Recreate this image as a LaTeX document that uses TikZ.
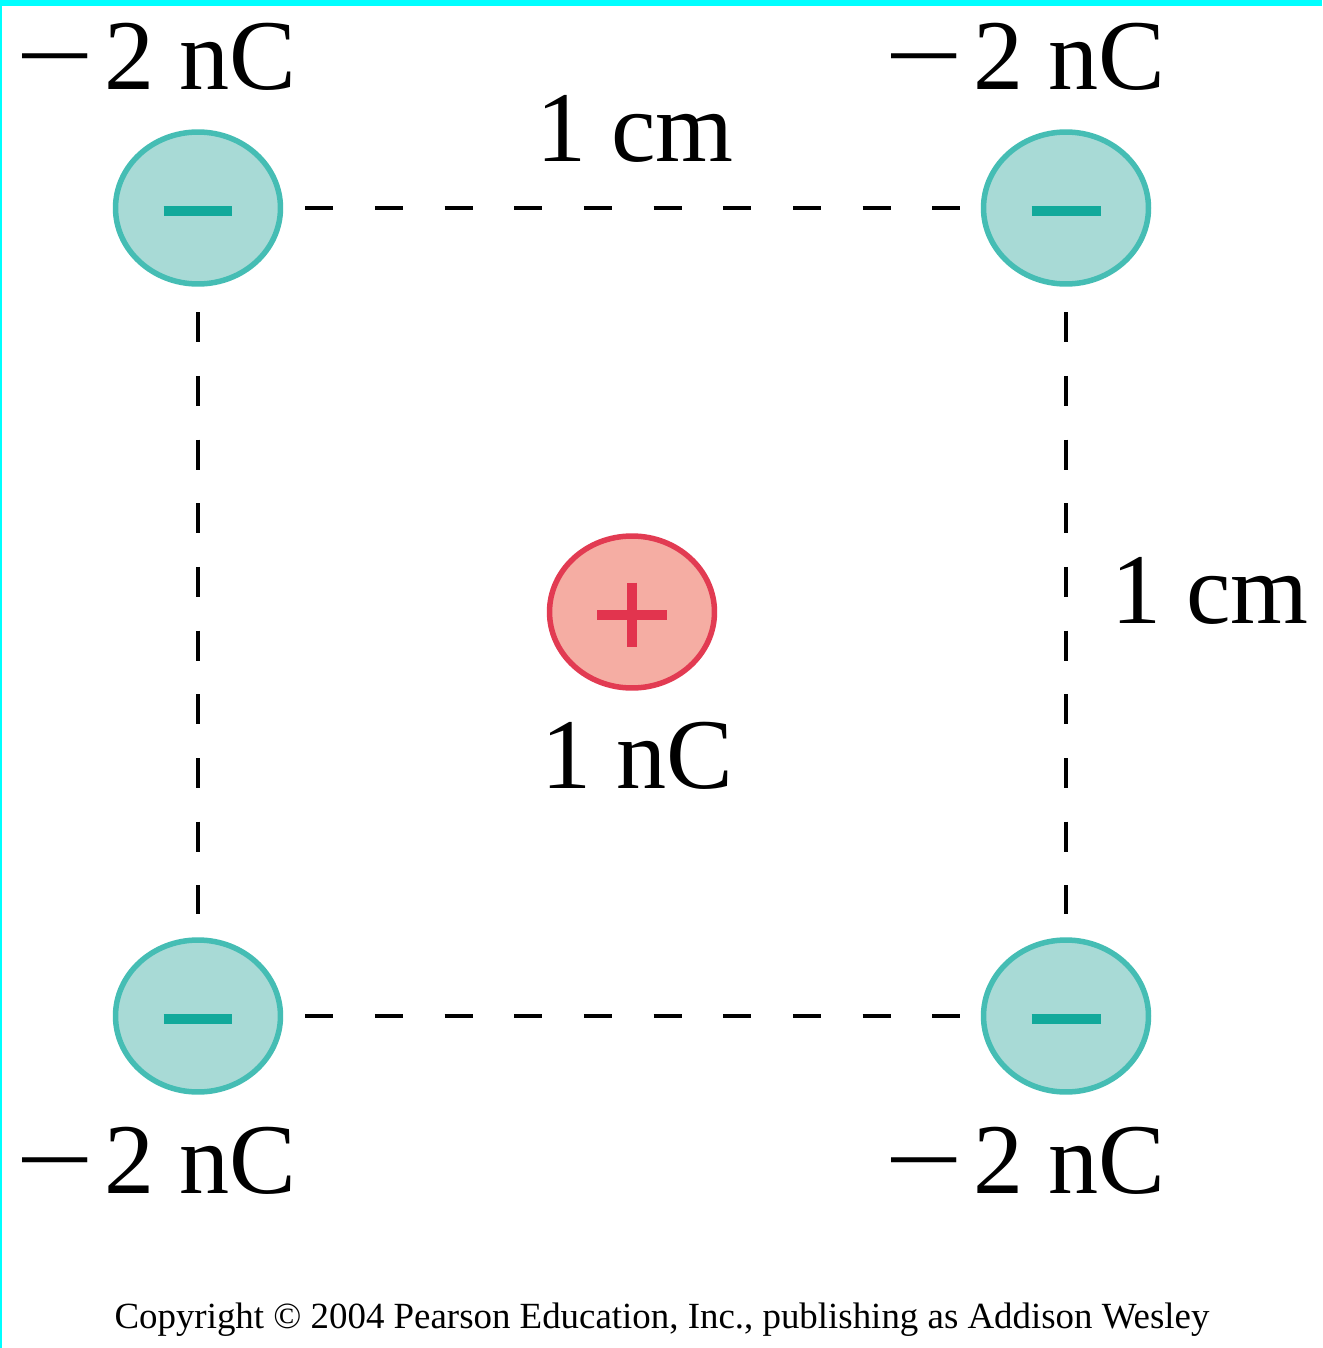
\documentclass[tikz,border=0pt]{standalone}
\usepackage{fontspec}
\setmainfont{Liberation Serif}
\usetikzlibrary{shapes.geometric}

\definecolor{negfill}{HTML}{A8DAD6}
\definecolor{negline}{HTML}{45BDB4}
\definecolor{negsign}{HTML}{12A99B}
\definecolor{posfill}{HTML}{F5ADA3}
\definecolor{posline}{HTML}{E23B52}
\definecolor{possign}{HTML}{E2344E}
\definecolor{edgecyan}{HTML}{00FFFF}

\newcommand{\minussign}{\scalebox{1.4}[1]{−}\kern0.1em}

\tikzset{
  charge/.style={ellipse, line width=0.11cm, minimum width=3.3cm, minimum height=3.04cm, inner sep=0pt},
  negcharge/.style={charge, fill=negfill, draw=negline},
  poscharge/.style={charge, fill=posfill, draw=posline},
  sign/.style={line width=0.2cm},
  lbl/.style={font=\fontsize{57}{62}\selectfont, anchor=base, inner sep=0pt},
  hside/.style={line width=0.08cm, dash pattern=on 0.56cm off 0.834cm, shorten <=0.44cm, shorten >=0.42cm},
  vside/.style={line width=0.08cm, dash pattern=on 0.6cm off 0.674cm, shorten <=0.51cm, shorten >=0.46cm}
}

\begin{document}
\begin{tikzpicture}[x=0.02cm, y=-0.02cm]
  \useasboundingbox (0,0) rectangle (1322,1348);
  \fill[white] (0,0) rectangle (1322,1348);

  % Cyan edge of the scan
  \fill[edgecyan] (0,0) rectangle (1322,6);
  \fill[edgecyan] (0,0) rectangle (2,1348);

  % Charges at the corners
  \node[negcharge] (tl) at (198,208) {};
  \node[negcharge] (tr) at (1066,208) {};
  \node[negcharge] (bl) at (198,1016) {};
  \node[negcharge] (br) at (1066,1016) {};
  \foreach \q in {tl,tr,bl,br}
    \draw[sign, negsign] ([xshift=-0.69cm, yshift=-0.06cm]\q.center) -- ([xshift=0.69cm, yshift=-0.06cm]\q.center);

  % Charge in the middle
  \node[poscharge] (mid) at (632,612) {};
  \draw[sign, possign] ([xshift=-0.7cm, yshift=-0.06cm]mid.center) -- ([xshift=0.7cm, yshift=-0.06cm]mid.center);
  \draw[sign, possign] ([yshift=0.59cm]mid.center) -- ([yshift=-0.71cm]mid.center);

  % Sides of the square
  \draw[hside] (tl) -- (tr);
  \draw[hside] (bl) -- (br);
  \draw[vside] (tl) -- (bl);
  \draw[vside] (tr) -- (br);

  % Labels
  \node[lbl] (qtl) at (156,90) {\minussign2 nC};
  \node[lbl] (qtr) at (1025,90) {\minussign2 nC};
  \node[lbl] (qbl) at (156,1193) {\minussign2 nC};
  \node[lbl] (qbr) at (1025,1193) {\minussign2 nC};
  \node[lbl] (qmid) at (637,788) {1 nC};
  \node[lbl] (top) at (635,162) {1 cm};
  \node[lbl] (right) at (1210,623) {1 cm};

  \node[font=\fontsize{21}{25}\selectfont, anchor=base, inner sep=0pt] (copy) at (662,1328) {Copyright © 2004 Pearson Education, Inc., publishing as Addison Wesley};
\end{tikzpicture}
\end{document}
